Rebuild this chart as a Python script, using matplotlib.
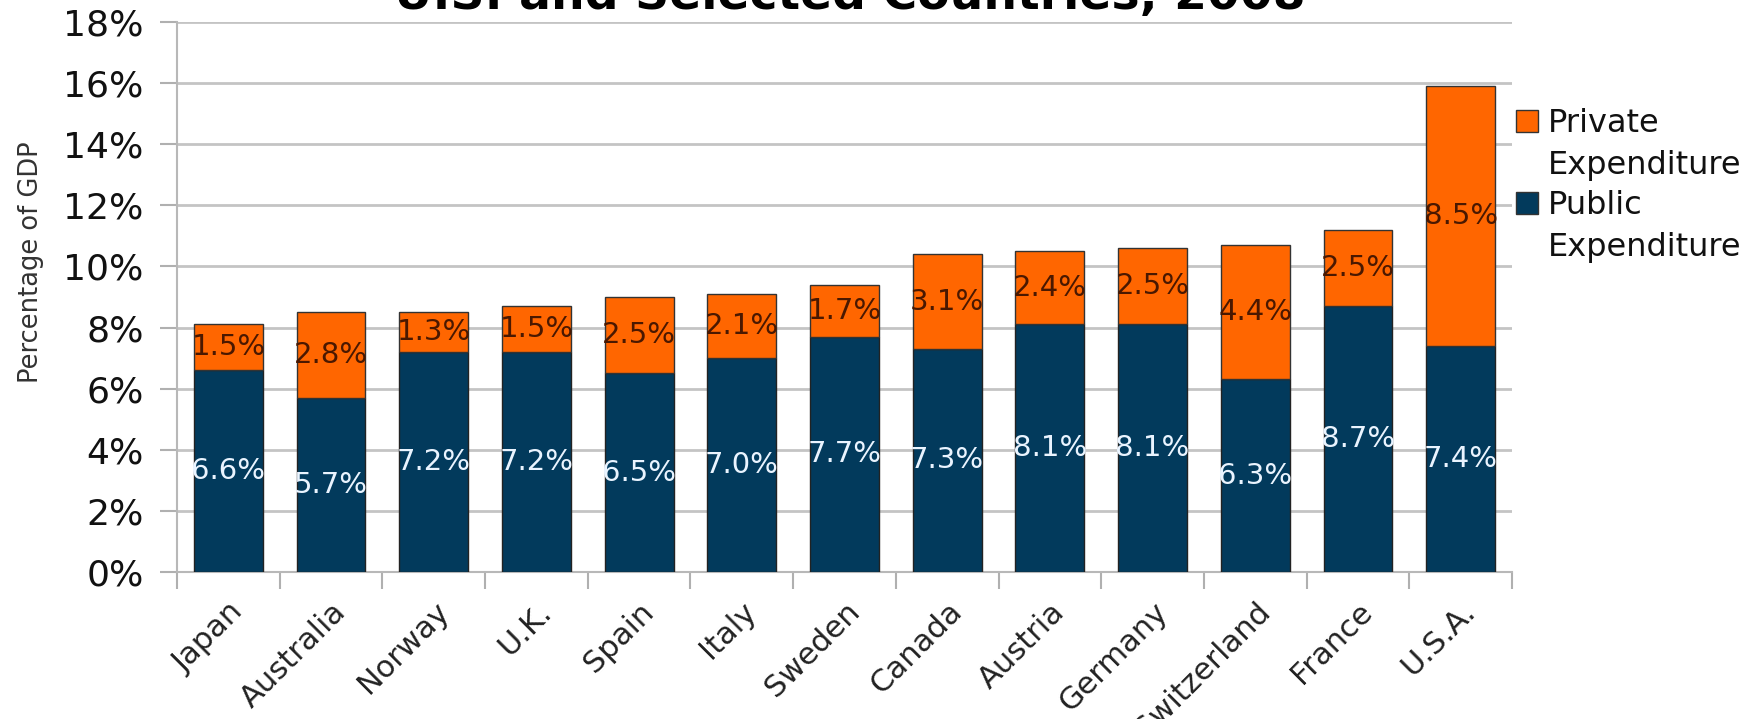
import matplotlib

matplotlib.use("Agg")
import matplotlib.pyplot as plt
from matplotlib.patches import Rectangle
from matplotlib.ticker import FuncFormatter, MultipleLocator

countries = ["Japan", "Australia", "Norway", "U.K.", "Spain", "Italy", "Sweden",
             "Canada", "Austria", "Germany", "Switzerland", "France", "U.S.A."]
public = [6.6, 5.7, 7.2, 7.2, 6.5, 7.0, 7.7, 7.3, 8.1, 8.1, 6.3, 8.7, 7.4]
private = [1.5, 2.8, 1.3, 1.5, 2.5, 2.1, 1.7, 3.1, 2.4, 2.5, 4.4, 2.5, 8.5]

ORANGE = "#ff6600"
NAVY = "#023a5c"
GRID = "#c4c4c4"

plt.rcParams["font.family"] = "DejaVu Sans"

fig = plt.figure(figsize=(17.55, 7.19), dpi=100)
ax = fig.add_axes([0.1009, 0.2045, 0.7606, 0.7649])

x = list(range(len(countries)))
ax.bar(x, public, width=0.67, color=NAVY, edgecolor="#222222", linewidth=1, zorder=3)
ax.bar(x, private, width=0.67, bottom=public, color=ORANGE, edgecolor="#333333",
       linewidth=1, zorder=3)

for i in x:
    ax.text(i, public[i] / 2, f"{public[i]:.1f}%", ha="center", va="center",
            fontsize=21, color="#eaf4ff", zorder=4)
    ax.text(i, public[i] + private[i] / 2, f"{private[i]:.1f}%", ha="center",
            va="center", fontsize=21, color="#4a1800", zorder=4)

ax.set_xlim(-0.5, len(countries) - 0.5)
ax.set_ylim(0, 18)
ax.yaxis.set_major_locator(MultipleLocator(2))
ax.yaxis.set_major_formatter(FuncFormatter(lambda v, _: f"{v:.0f}%"))
ax.grid(axis="y", color=GRID, linewidth=2, zorder=0)
ax.set_axisbelow(True)

# category labels at centres, tick marks at the boundaries
ax.set_xticks(x)
ax.set_xticklabels(countries, rotation=45, ha="right", va="top",
                   rotation_mode="anchor", fontsize=22, color="#222222")
ax.set_xticks([i - 0.5 for i in range(len(countries) + 1)], minor=True)
ax.tick_params(axis="x", which="major", length=0, pad=18)
ax.tick_params(axis="x", which="minor", length=12, width=1.5, color="#b0b0b0")
ax.tick_params(axis="y", length=12, width=1.5, color="#b0b0b0", labelsize=26,
               labelcolor="#111111", pad=12)

for side in ["top", "right"]:
    ax.spines[side].set_visible(False)
for side in ["left", "bottom"]:
    ax.spines[side].set_color("#b8b8b8")
    ax.spines[side].set_linewidth(1.5)

ax.set_ylabel("Percentage of GDP", fontsize=18.5, color="#333333")
ax.yaxis.set_label_coords(-0.1, 0.564)

fig.text(0.484, 1 - 9 / 719, "U.S. and Selected Countries, 2008", ha="center",
         va="baseline", fontsize=34, fontweight="bold", color="black")

# legend, drawn by hand so each box sits beside the first line of its label
for label, color, top in [("Private\nExpenditure", ORANGE, 110),
                          ("Public\nExpenditure", NAVY, 192)]:
    fig.patches.append(Rectangle((1516 / 1755, 1 - (top + 22) / 719), 22 / 1755,
                                 22 / 719, transform=fig.transFigure,
                                 facecolor=color, edgecolor="#333333", linewidth=1))
    fig.text(1548 / 1755, 1 - (top - 2) / 719, label, ha="left", va="top",
             fontsize=23, color="#111111", linespacing=1.45)

fig.savefig("out.png", dpi=100)
